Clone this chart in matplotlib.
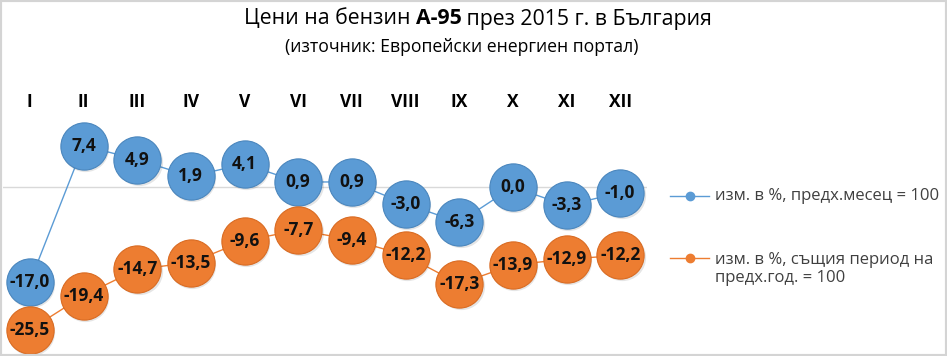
import matplotlib.pyplot as plt
from matplotlib.lines import Line2D
from matplotlib.patches import Rectangle
import matplotlib.transforms as mtransforms

# Monthly change of A-95 petrol prices, Bulgaria 2015
months = ['I', 'II', 'III', 'IV', 'V', 'VI', 'VII', 'VIII', 'IX', 'X', 'XI', 'XII']
prev_month = [-17.0, 7.4, 4.9, 1.9, 4.1, 0.9, 0.9, -3.0, -6.3, 0.0, -3.3, -1.0]
prev_year = [-25.5, -19.4, -14.7, -13.5, -9.6, -7.7, -9.4, -12.2, -17.3, -13.9, -12.9, -12.2]
series_names = ['изм. в %, предх.месец = 100',
                'изм. в %, същия период на\nпредх.год. = 100']
colors = ['#5B9BD5', '#ED7D31']
edge_colors = ['#4a86bd', '#d96b22']

plt.rcParams['font.family'] = ['Open Sans', 'DejaVu Sans']

W, H = 947, 356
fig = plt.figure(figsize=(W / 100, H / 100), dpi=100)

# plot area in pixels: x 3..647, y 131..355 (top-down)
ax = fig.add_axes([3 / W, 1 / H, 644 / W, 224 / H])
ax.set_xlim(-0.5, 11.5)
ax.set_ylim(-30, 10)
ax.axis('off')
ax.axhline(0, color='#d9d9d9', lw=1, zorder=0)

x = list(range(len(months)))
shadow = mtransforms.offset_copy(ax.transData, fig=fig, x=1.5, y=-2.0, units='dots')

for vals, c, ec in zip([prev_month, prev_year], colors, edge_colors):
    ax.plot(x, vals, color=c, lw=1, zorder=1, clip_on=False)
    ax.plot(x, vals, 'o', ms=34, color='#000000', alpha=0.10, mew=0,
            transform=shadow, zorder=2, clip_on=False)
    ax.plot(x, vals, 'o', ms=34, mfc=c, mec=ec, mew=0.8, ls='none', zorder=3,
            clip_on=False)
    for xi, v in zip(x, vals):
        ax.text(xi, v, f'{v:.1f}'.replace('.', ','), ha='center', va='center',
                fontsize=12.5, fontweight='bold', color='#111111', zorder=4)

# month labels above the plot area
for xi, m in zip(x, months):
    ax.text(xi, 15.2, m, ha='center', va='center', fontsize=12.5,
            fontweight='bold', color='#000000', clip_on=False)

# legend drawn by hand
leg_rows = [196, 269]
for yp, c, name in zip(leg_rows, colors, series_names):
    ym = 196 if yp == 196 else 258
    fig.add_artist(Line2D([670 / W, 709 / W], [1 - ym / H] * 2, color=c, lw=1))
    fig.add_artist(Line2D([690 / W], [1 - ym / H], marker='o', ms=6, color=c))
    fig.text(715 / W, 1 - yp / H, name, ha='left', va='center',
             fontsize=12, color='#404040', linespacing=1.2)

# title with bold part
pieces = [('Цени на бензин ', 'normal'), ('А-95', 'bold'),
          (' през 2015 г. в България', 'normal')]
fig.canvas.draw()
renderer = fig.canvas.get_renderer()
texts = []
for s, wgt in pieces:
    t = fig.text(0, 1 - 19 / H, s, ha='left', va='center', fontsize=15.3,
                 fontweight=wgt, color='#000000')
    texts.append(t)
widths = [t.get_window_extent(renderer).width for t in texts]
xpos = 478 - sum(widths) / 2
for t, w in zip(texts, widths):
    t.set_x(xpos / W)
    xpos += w

fig.text(462 / W, 1 - 47 / H, '(източник: Европейски енергиен портал)',
         ha='center', va='center', fontsize=12.7, color='#000000')

# light frame around the chart
fig.add_artist(Rectangle((0, 0), 1, 1, transform=fig.transFigure, fill=False,
                         edgecolor='#d4d4d4', lw=3))

fig.savefig('out.png', dpi=100)
